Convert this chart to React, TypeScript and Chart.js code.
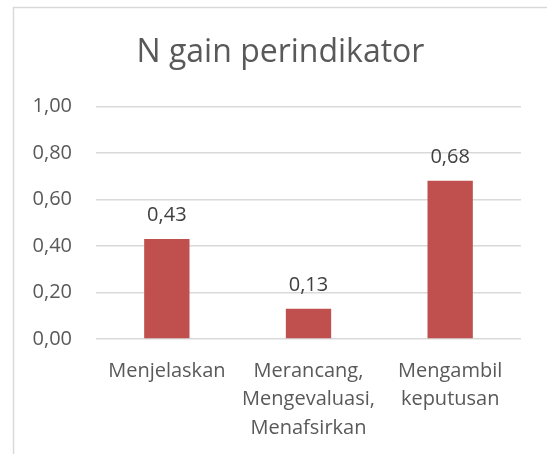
import React, { useEffect, useRef } from "react";
import { Chart, registerables } from "chart.js";

Chart.register(...registerables);

const categories: (string | string[])[] = [
  "Menjelaskan",
  ["Merancang,", "Mengevaluasi,", "Menafsirkan"],
  ["Mengambil", "keputusan"],
];
const values: number[] = [0.43, 0.13, 0.68];
const titleText = "N gain perindikator";
const yMin = 0;
const yMax = 1;
const yStep = 0.2;

const FONT = "'Open Sans', 'Noto Sans', sans-serif";
const TEXT = "#595959";
const BAR = "#C0504D";
const GRID = "#D9D9D9";

const fmt = (v: number) => v.toFixed(2).replace(".", ",");

const framePlugin = {
  id: "frame",
  beforeDraw(chart: any) {
    const ctx = chart.ctx;
    ctx.save();
    ctx.fillStyle = "#ffffff";
    ctx.fillRect(0, 0, chart.width, chart.height);
    ctx.strokeStyle = GRID;
    ctx.lineWidth = 1.5;
    ctx.strokeRect(13.5, 7.5, 700, 700);
    ctx.restore();
  },
  afterDraw(chart: any) {
    const tb = chart.titleBlock;
    if (!tb) return;
    const ctx = chart.ctx;
    const pad = tb.options.padding;
    const top = tb.top + (typeof pad === "object" ? pad.top : pad);
    const h = 32 * 1.2;
    ctx.save();
    ctx.font = `32px ${FONT}`;
    ctx.fillStyle = TEXT;
    ctx.textAlign = "center";
    ctx.textBaseline = "middle";
    ctx.fillText(titleText, (14 + chart.width) / 2, top + h / 2);
    ctx.restore();
  },
};

const labelPlugin = {
  id: "valueLabels",
  afterDatasetsDraw(chart: any) {
    const ctx = chart.ctx;
    const meta = chart.getDatasetMeta(0);
    ctx.save();
    ctx.font = `20px ${FONT}`;
    ctx.fillStyle = "#404040";
    ctx.textAlign = "center";
    ctx.textBaseline = "alphabetic";
    meta.data.forEach((el: any, i: number) => {
      ctx.fillText(fmt(values[i]), el.x, el.y - 18);
    });
    ctx.restore();
  },
};

export default function App() {
  const ref = useRef<HTMLCanvasElement | null>(null);
  useEffect(() => {
    if (!ref.current) return;
    const chart = new Chart(ref.current, {
      type: "bar",
      data: {
        labels: categories,
        datasets: [
          {
            data: values,
            backgroundColor: BAR,
            borderWidth: 0,
            barPercentage: 0.32,
            categoryPercentage: 1,
          },
        ],
      },
      options: {
        animation: false,
        responsive: false,
        layout: { padding: { left: 14, right: 26, top: 0, bottom: 0 } },
        plugins: {
          legend: { display: false },
          tooltip: { enabled: false },
          title: {
            display: true,
            text: titleText,
            color: "rgba(0,0,0,0)",
            font: { family: FONT, size: 32, weight: "normal" },
            padding: { top: 34, bottom: 34 },
          },
        },
        scales: {
          x: {
            grid: { display: false, drawTicks: false },
            border: { display: false },
            ticks: {
              color: TEXT,
              font: { family: FONT, size: 20, lineHeight: 1.42 },
              padding: 18,
              maxRotation: 0,
              autoSkip: false,
            },
            afterFit: (s: any) => {
              s.height = 115;
            },
          },
          y: {
            min: yMin,
            max: yMax,
            grid: { color: GRID, lineWidth: 1.5, drawTicks: false },
            border: { display: false },
            ticks: {
              stepSize: yStep,
              color: TEXT,
              font: { family: FONT, size: 20 },
              padding: 24,
              callback: (v: any) => fmt(Number(v)),
            },
            afterFit: (s: any) => {
              s.width = 82;
            },
          },
        },
      },
      plugins: [framePlugin, labelPlugin],
    });
    return () => chart.destroy();
  }, []);
  return (
    <div style={{ position: "fixed", left: 0, top: 0, width: 547, height: 454 }}>
      <canvas ref={ref} width={547} height={454} style={{ width: 547, height: 454 }} />
    </div>
  );
}
